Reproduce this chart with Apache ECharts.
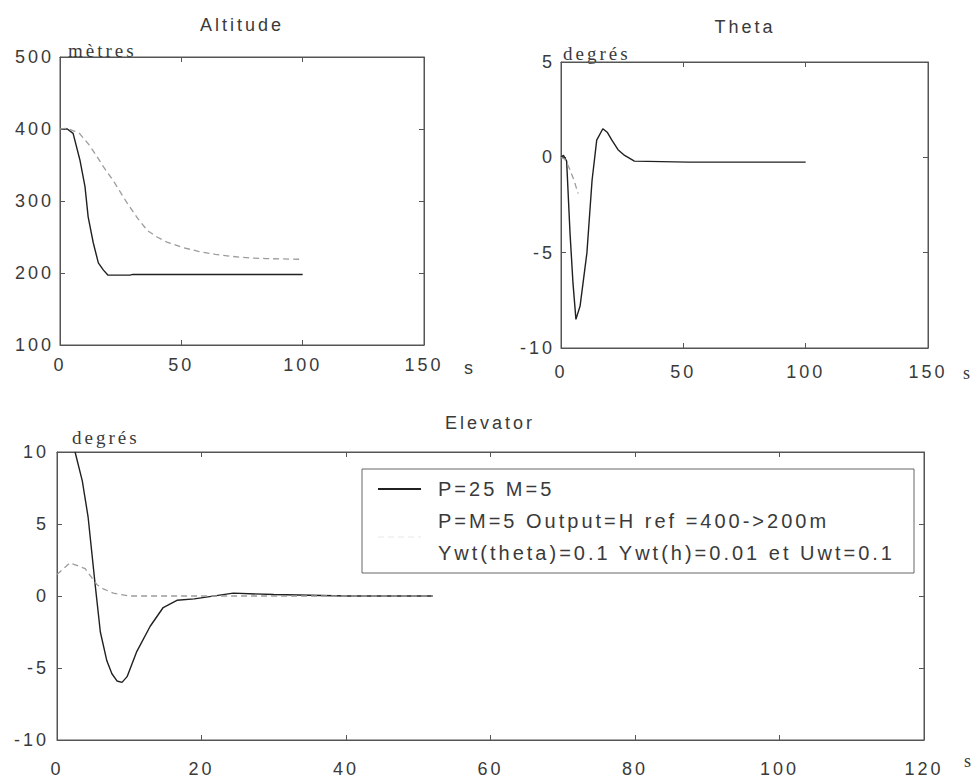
<!DOCTYPE html>
<html>
<head>
<meta charset="utf-8">
<script src="https://cdn.jsdelivr.net/npm/echarts@6/dist/echarts.min.js"></script>
<style>
  html, body { margin: 0; padding: 0; background: #ffffff; }
  #chart { width: 980px; height: 784px; }
  #chart text { letter-spacing: 3px; }
</style>
</head>
<body>
<div id="chart"></div>
<script>
// Series names (legend entries)
const nameP25 = 'P=25 M=5';
const namePM5 = 'P=M=5 Output=H ref =400->200m';
const weightNote = 'Ywt(theta)=0.1 Ywt(h)=0.01 et Uwt=0.1';

// Panel titles and units
const panelTitles = ['Altitude', 'Theta', 'Elevator'];
const panelUnits = ['mètres', 'degrés', 'degrés'];

// Axis ranges: [min, max, interval]
const altitudeX = [0, 150, 50];
const altitudeY = [100, 500, 100];
const thetaX = [0, 150, 50];
const thetaY = [-10, 5, 5];
const elevatorX = [0, 120, 20];
const elevatorY = [-10, 10, 5];

// Altitude (m) vs time (s)
const altitudeP25 = [[0,400],[3,400],[5.4,394],[8.2,357],[10.3,320],[11.6,278],[13.7,242],[15.8,214],[17.9,204],[19.8,197],[28.8,197],[30,198],[50,198],[75,198],[100,198]];
const altitudePM5 = [[0,400],[3,401],[8,394],[12,378],[15,363],[18,347],[22,328],[27.5,298],[32,276],[36,259],[40,250],[44,243],[50,236],[57,230],[64,226],[71,223],[78,221],[85,220],[100,219]];

// Pitch angle theta (deg) vs time (s)
const thetaP25 = [[0,0],[1,0.1],[2.3,-0.2],[3.7,-4],[4.9,-6.6],[6.1,-8.5],[7.8,-7.8],[9.2,-6.4],[10.6,-5],[11.7,-3],[12.7,-1.2],[14.6,0.9],[17.1,1.5],[19,1.3],[20.8,0.9],[23.3,0.4],[26,0.1],[30,-0.2],[52,-0.25],[100,-0.25]];
const thetaPM5 = [[0,0],[1.6,-0.1],[3.5,-0.6],[5.3,-1.2],[7,-1.9]];

// Elevator deflection (deg) vs time (s)
const elevatorP25 = [[2.5,10],[3.5,8],[4.3,5.5],[5.3,0.7],[6,-2.5],[6.9,-4.5],[7.6,-5.4],[8.3,-5.9],[9,-6],[9.7,-5.6],[11,-3.9],[12.9,-2.1],[14.7,-0.8],[16.6,-0.3],[19,-0.2],[24.4,0.2],[30,0.1],[40,0],[52,0]];
const elevatorPM5 = [[0,1.5],[1.8,2.3],[3.9,1.9],[5.5,0.8],[6.4,0.5],[7.8,0.2],[10,0],[52,0]];

const SANS = '"Liberation Sans", Arial, sans-serif';
const SERIF = '"Liberation Serif", "Times New Roman", serif';
const TEXT = '#3a3a3a';
const FRAME = '#555555';

const grids = [
  { left: 60, top: 57, width: 364, height: 288 },
  { left: 561, top: 62, width: 367, height: 286 },
  { left: 57, top: 452, width: 867, height: 288 }
];

const panelCfg = [
  { x: altitudeX, y: altitudeY, xMargin: 11, yMargin: 6, unitPad: 8, unitGap: 7, sGap: 40, sPad: 14, sFont: SANS },
  { x: thetaX, y: thetaY, xMargin: 15, yMargin: 6, unitPad: 2, unitGap: 9, sGap: 35, sPad: 16, sFont: SERIF },
  { x: elevatorX, y: elevatorY, xMargin: 20, yMargin: 8, unitPad: 15, unitGap: 15, sGap: 40, sPad: 12, sFont: SERIF }
];

const xAxes = [];
const yAxes = [];
panelCfg.forEach((p, g) => {
  const line = { show: true, onZero: false, lineStyle: { color: FRAME, width: 1 } };
  const tick = { show: true, inside: true, length: 5, lineStyle: { color: FRAME } };
  xAxes.push({
    gridIndex: g, type: 'value', position: 'bottom',
    min: p.x[0], max: p.x[1], interval: p.x[2],
    axisLine: line, axisTick: tick, splitLine: { show: false },
    axisLabel: { fontSize: 18, color: TEXT, fontFamily: SANS, margin: p.xMargin },
    name: 's', nameLocation: 'end', nameGap: p.sGap,
    nameTextStyle: { fontSize: 18, color: TEXT, fontFamily: p.sFont, verticalAlign: 'top', padding: [p.sPad, 0, 0, 0] }
  });
  xAxes.push({
    gridIndex: g, type: 'value', position: 'top',
    min: p.x[0], max: p.x[1], interval: p.x[2],
    axisLine: line, axisTick: tick, axisLabel: { show: false }, splitLine: { show: false }
  });
  yAxes.push({
    gridIndex: g, type: 'value', position: 'left',
    min: p.y[0], max: p.y[1], interval: p.y[2],
    axisLine: line, axisTick: tick, splitLine: { show: false },
    axisLabel: { fontSize: 18, color: TEXT, fontFamily: SANS, margin: p.yMargin },
    name: panelUnits[g], nameLocation: 'end', nameGap: p.unitGap,
    nameTextStyle: { fontSize: 19, color: TEXT, fontFamily: SERIF, align: 'left', verticalAlign: 'middle', padding: [0, 0, 0, p.unitPad] }
  });
  yAxes.push({
    gridIndex: g, type: 'value', position: 'right',
    min: p.y[0], max: p.y[1], interval: p.y[2],
    axisLine: line, axisTick: tick, axisLabel: { show: false }, splitLine: { show: false }
  });
});

const solidStyle = { color: '#202020', width: 1.4, type: 'solid' };
const dashStyle = { color: '#9c9c9c', width: 1.3, type: [6, 4] };

function lineSeries(name, data, g, style) {
  return {
    type: 'line', name: name, data: data,
    xAxisIndex: 2 * g, yAxisIndex: 2 * g,
    symbol: 'none', smooth: false, clip: true,
    lineStyle: style, itemStyle: { color: style.color },
    emphasis: { disabled: true }
  };
}

const titlePos = [[242, 25], [745, 27], [490, 423]];

const option = {
  animation: false,
  backgroundColor: '#ffffff',
  grid: grids.map(gr => Object.assign({ show: true, borderColor: FRAME, borderWidth: 1, backgroundColor: 'transparent', containLabel: false }, gr)),
  xAxis: xAxes,
  yAxis: yAxes,
  legend: {
    data: [
      { name: nameP25 },
      { name: namePM5, lineStyle: { opacity: 0.12 } }
    ],
    orient: 'vertical',
    left: 362, top: 469,
    itemWidth: 43, itemHeight: 14, itemGap: 0,
    padding: [4, 20, 4, 15],
    borderColor: '#666666', borderWidth: 1,
    backgroundColor: '#ffffff',
    selectedMode: false,
    itemStyle: { opacity: 0 },
    formatter: n => (n === namePM5 ? n + '\n' + weightNote : n),
    textStyle: { fontSize: 20, lineHeight: 32, color: TEXT, fontFamily: SANS, padding: [0, 0, 0, 12], width: 456 }
  },
  graphic: panelTitles.map((t, i) => ({
    type: 'text', x: titlePos[i][0], y: titlePos[i][1], silent: true,
    style: { text: t, fill: TEXT, font: '18px ' + SANS, textAlign: 'center', textVerticalAlign: 'middle' }
  })),
  series: [
    lineSeries(nameP25, altitudeP25, 0, solidStyle),
    lineSeries(namePM5, altitudePM5, 0, dashStyle),
    lineSeries(nameP25, thetaP25, 1, solidStyle),
    lineSeries(namePM5, thetaPM5, 1, dashStyle),
    lineSeries(nameP25, elevatorP25, 2, solidStyle),
    lineSeries(namePM5, elevatorPM5, 2, dashStyle)
  ]
};

const chart = echarts.init(document.getElementById('chart'), null, { renderer: 'svg' });
chart.setOption(option);
</script>
</body>
</html>
